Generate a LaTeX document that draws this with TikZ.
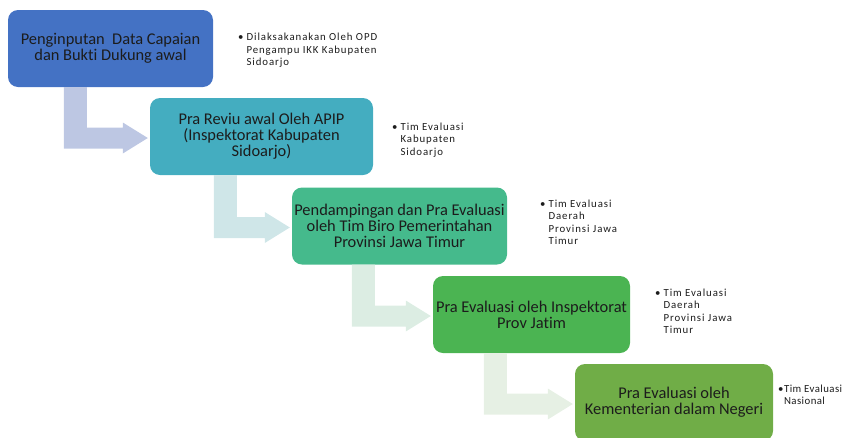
\documentclass[tikz,border=0pt]{standalone}
\usepackage{fontspec}
\setmainfont{Carlito}[Ligatures=NoCommon]
\usetikzlibrary{calc}

\definecolor{boxA}{HTML}{4472C4}
\definecolor{boxB}{HTML}{44ADC0}
\definecolor{boxC}{HTML}{45BA8C}
\definecolor{boxD}{HTML}{4BB452}
\definecolor{boxE}{HTML}{70AD47}
\definecolor{arrA}{HTML}{BDC7E3}
\definecolor{arrB}{HTML}{CFE6E8}
\definecolor{arrC}{HTML}{DCEDE3}
\definecolor{arrD}{HTML}{E6F0E4}
\definecolor{ink}{HTML}{1C1C1C}

\tikzset{
  stepbox/.style={fill=#1, rounded corners=10pt, minimum height=77pt,
    inner sep=0pt, align=center, text=ink, font=\fontsize{16.4}{16}\selectfont},
  note/.style={anchor=base west, inner sep=0pt, text=ink,
    font=\fontsize{10.8}{12.5}\selectfont\addfontfeature{LetterSpace=8.5}},
}

% bent arrow: source, target, offset of the bar, colour
\newcommand{\bentarrow}[4]{%
  \fill[#4] ($(#1.south west)+(#3,0)$) -- ($(#1.south west)+(#3+23,0)$)
    |- ($(#2.west)+(-27,-9)$) -- ($(#2.west)+(-27,-14)$) -- ($(#2.west)+(-2,1.5)$)
    -- ($(#2.west)+(-27,17)$) -- ($(#2.west)+(-27,12)$)
    -| ($(#1.south west)+(#3,0)$) -- cycle;
}

\begin{document}
\begin{tikzpicture}[x=1pt, y=-1pt]
\useasboundingbox (0,0) rectangle (844,437);
\clip (0,0) rectangle (844,437);
% Langkah
\node[stepbox=boxA, minimum width=205pt] (input) at (110.5,48.5)
  {Penginputan\ \ Data Capaian\\dan Bukti Dukung awal};
\node[stepbox=boxB, minimum width=223pt] (reviu) at (261.5,136.5)
  {Pra Reviu awal Oleh APIP\\(Inspektorat Kabupaten\\Sidoarjo)};
\node[stepbox=boxC, minimum width=215pt] (biro) at (399.5,226)
  {Pendampingan dan Pra Evaluasi\\oleh Tim Biro Pemerintahan\\Provinsi Jawa Timur};
\node[stepbox=boxD, minimum width=197pt] (inspek) at (531.5,314.5)
  {Pra Evaluasi oleh Inspektorat\\Prov Jatim};
\node[stepbox=boxE, minimum width=198pt] (kemen) at (674,402.5)
  {Pra Evaluasi oleh\\Kementerian dalam Negeri};
% Panah
\bentarrow{input}{reviu}{56}{arrA}
\bentarrow{reviu}{biro}{64}{arrB}
\bentarrow{biro}{inspek}{60}{arrC}
\bentarrow{inspek}{kemen}{51}{arrD}
% Keterangan
\node[note] (ketA) at (238,40.5) {\begin{tabular}[t]{@{}l@{\hspace{3pt}}l@{}}
  \textbullet & Dilaksakanakan Oleh OPD\\ & Pengampu IKK Kabupaten\\ & Sidoarjo\end{tabular}};
\node[note] (ketB) at (392,130) {\begin{tabular}[t]{@{}l@{\hspace{3pt}}l@{}}
  \textbullet & Tim Evaluasi\\ & Kabupaten\\ & Sidoarjo\end{tabular}};
\node[note] (ketC) at (540,207) {\begin{tabular}[t]{@{}l@{\hspace{3pt}}l@{}}
  \textbullet & Tim Evaluasi\\ & Daerah\\ & Provinsi Jawa\\ & Timur\end{tabular}};
\node[note] (ketD) at (655,296) {\begin{tabular}[t]{@{}l@{\hspace{3pt}}l@{}}
  \textbullet & Tim Evaluasi\\ & Daerah\\ & Provinsi Jawa\\ & Timur\end{tabular}};
\node[note, font=\fontsize{10.8}{12.5}\selectfont\addfontfeature{LetterSpace=4}] (ketE)
  at (778,392) {\begin{tabular}[t]{@{}l@{\hspace{0.5pt}}l@{}}
  \textbullet & Tim Evaluasi\\ & Nasional\end{tabular}};
\end{tikzpicture}
\end{document}
